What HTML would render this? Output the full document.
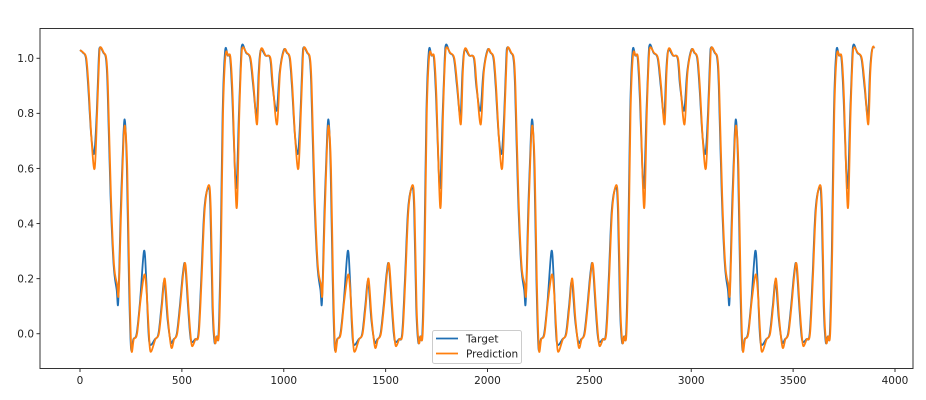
<!DOCTYPE html>
<html><head><meta charset="utf-8"><style>
html,body{margin:0;padding:0;background:#fff;}
svg{display:block;font-family:"DejaVu Sans","Liberation Sans",sans-serif;}
</style></head><body>
<svg id="s" width="926" height="400" viewBox="0 0 926 400" xmlns="http://www.w3.org/2000/svg">
<rect width="926" height="400" fill="#fff"/>
<g id="ticks" font-size="10.5" fill="#222"></g>
<path id="tg" fill="none" stroke="#1f6fb4" stroke-width="1.8" stroke-linejoin="round"/>
<path id="pr" fill="none" stroke="#ff7f0e" stroke-width="1.8" stroke-linejoin="round"/>
<rect x="40" y="28.5" width="873" height="340" fill="none" stroke="#333" stroke-width="1"/>
<rect x="432.5" y="330.5" width="89" height="33" rx="2" fill="#fff" fill-opacity="0.85" stroke="#ccc"/>
<line x1="436" y1="338.5" x2="458" y2="338.5" stroke="#1f6fb4" stroke-width="1.8"/>
<line x1="436" y1="353.5" x2="458" y2="353.5" stroke="#ff7f0e" stroke-width="1.8"/>
<text x="466" y="342.5" font-size="10.5" fill="#222">Target</text>
<text x="466" y="357.5" font-size="10.5" fill="#222">Prediction</text>
</svg>
<script>
const X=t=>80+t*0.20375, Y=v=>333.7-v*275.4;
const g=document.getElementById('ticks');let h='';
[0,500,1000,1500,2000,2500,3000,3500,4000].forEach(t=>{const x=X(t);h+=`<line x1="${x}" y1="368.5" x2="${x}" y2="372" stroke="#333"/><text x="${x}" y="384" text-anchor="middle">${t}</text>`;});
[0,0.2,0.4,0.6,0.8,1.0].forEach(v=>{const y=Y(v);h+=`<line x1="36.5" y1="${y}" x2="40" y2="${y}" stroke="#333"/><text x="34" y="${y+3.8}" text-anchor="end">${v.toFixed(1)}</text>`;});
g.innerHTML=h;
const T=[[0,1.03],[15,1.02],[29,1.0],[40,0.9],[55,0.72],[70,0.655],[82,0.8],[92,1.0],[98,1.04],[115,1.02],[127,1.0],[135,0.9],[150,0.5],[165,0.25],[180,0.16],[188,0.12],[200,0.45],[213,0.72],[221,0.77],[230,0.6],[240,0.2],[250,-0.05],[262,-0.02],[278,0.0],[295,0.12],[314,0.3],[325,0.2],[335,0.02],[344,-0.04],[368,-0.02],[385,0.0],[400,0.1],[414,0.19],[430,0.05],[446,-0.03],[460,-0.02],[475,0.0],[490,0.1],[505,0.22],[516,0.25],[530,0.1],[540,0.0],[548,-0.03],[565,-0.02],[581,0.0],[595,0.2],[610,0.45],[630,0.53],[640,0.45],[650,0.1],[660,-0.03],[670,-0.01],[680,0.0],[690,0.3],[700,0.8],[712,1.025],[725,1.01],[737,1.0],[748,0.85],[760,0.6],[769,0.54],[780,0.8],[790,1.0],[797,1.05],[815,1.02],[835,1.0],[850,0.9],[867,0.79],[877,0.95],[887,1.03],[910,1.01],[933,1.0],[945,0.9],[965,0.81],[980,0.95]];
const mod={70:0.6,188:0.15,180:0.18,221:0.74,250:-0.055,314:0.215,325:0.15,344:-0.065,414:0.2,446:-0.05,516:0.25,548:-0.045,630:0.54,712:1.01,769:0.47,760:0.55,797:1.04,867:0.76,887:1.035,965:0.76,55:0.7};
function build(pts,shift){
  const all=[];
  for(let c=0;c<4;c++)for(const [t,v] of pts){const tt=t+c*1000+(t===0&&c===0?0:shift);if(tt<=3900)all.push([tt,v]);}
  all.push([3900,1.04]);
  const P=all.map(([t,v])=>[X(t),Y(v)]);
  let d='M'+P[0][0].toFixed(2)+' '+P[0][1].toFixed(2);
  for(let i=0;i<P.length-1;i++){
    const p0=P[Math.max(0,i-1)],p1=P[i],p2=P[i+1],p3=P[Math.min(P.length-1,i+2)];
    const c1=[p1[0]+(p2[0]-p0[0])/6,p1[1]+(p2[1]-p0[1])/6],c2=[p2[0]-(p3[0]-p1[0])/6,p2[1]-(p3[1]-p1[1])/6];
    d+=`C${c1[0].toFixed(2)} ${c1[1].toFixed(2)} ${c2[0].toFixed(2)} ${c2[1].toFixed(2)} ${p2[0].toFixed(2)} ${p2[1].toFixed(2)}`;
  }
  return d;
}
document.getElementById('tg').setAttribute('d',build(T,0));
const O=T.map(([t,v])=>[t,mod[t]!==undefined?mod[t]:v]);
document.getElementById('pr').setAttribute('d',build(O,2));
</script>
</body></html>
